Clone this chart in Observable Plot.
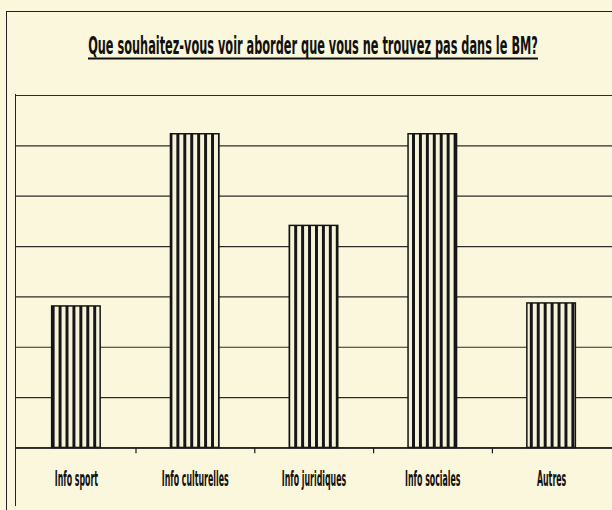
<!DOCTYPE html>
<html><head><meta charset="utf-8">
<script src="https://cdn.jsdelivr.net/npm/d3@7"></script>
<script src="https://cdn.jsdelivr.net/npm/@observablehq/plot@0.6"></script>
<style>
html,body{margin:0;padding:0;}
body{background:#fbf7dc;width:612px;height:510px;overflow:hidden;position:relative;font-family:"Liberation Sans Narrow","DejaVu Sans Condensed","Liberation Sans",sans-serif;}
#outer{position:absolute;left:6px;top:11px;width:700px;height:600px;border:1.5px solid #222;box-sizing:border-box;}
#title{position:absolute;left:0;top:0;}
#plot{position:absolute;left:15px;top:94px;border-left:1.5px solid #222;}
</style></head><body>
<div id="outer"></div>
<svg id="title" width="612" height="80"></svg>
<div id="plot"></div>
<script>
const categories = ["Info sport","Info culturelles","Info juridiques","Info sociales","Autres"];
const values = [14.05, 31.15, 22.05, 31.15, 14.35];
const yTicks = [0, 5, 10, 15, 20, 25, 30, 35];
const titleText = "Que souhaitez-vous voir aborder que vous ne trouvez pas dans le BM?";

const data = categories.map((c, i) => ({category: c, value: values[i]}));

// Title
const tsvg = d3.select("#title");
const t = tsvg.append("text")
  .attr("text-anchor", "middle")
  .attr("font-family", "'Liberation Sans Narrow','DejaVu Sans Condensed',sans-serif")
  .attr("font-weight", "bold").attr("font-size", 24)
  .attr("fill", "#111")
  .text(titleText);
const natural = t.node().getComputedTextLength();
const k = Math.min(1, 450 / natural);
t.attr("transform", `translate(313,54) scale(${k},1)`);
tsvg.append("line").attr("x1", 88).attr("x2", 538).attr("y1", 58.5).attr("y2", 58.5)
  .attr("stroke", "#111").attr("stroke-width", 2.2);

const W = 602, n = categories.length;
const step = W / n;

const chart = Plot.plot({
  width: W, height: 416,
  marginTop: 1, marginBottom: 59, marginLeft: 0, marginRight: 0,
  style: {background: "transparent", fontFamily: "'Liberation Sans Narrow','DejaVu Sans Condensed',sans-serif"},
  x: {domain: categories, paddingInner: 0.59, paddingOuter: 0.295, label: null, axis: null},
  y: {domain: [0, 35], axis: null, label: null},
  marks: [
    Plot.ruleY(yTicks, {stroke: "#2b2b2b", strokeWidth: 1.2}),
    Plot.barY(data, {x: "category", y: "value", fill: "url(#stripes)", stroke: "#141414", strokeWidth: 1.5}),
    Plot.ruleY([0], {stroke: "#1a1a1a", strokeWidth: 1.5}),
    Plot.axisX({ticks: categories.slice(0, -1), tickSize: 6, tickFormat: () => "", dx: step / 2, stroke: "#1a1a1a", strokeWidth: 1.2}),
    Plot.axisX({tickSize: 0, tickPadding: 24, fontSize: 21, fontWeight: "bold", fill: "#111", className: "xlabels"})
  ]
});
document.getElementById("plot").appendChild(chart);

// stripe pattern
const svg = d3.select(chart);
const defs = svg.insert("defs", ":first-child");
const pat = defs.append("pattern").attr("id", "stripes").attr("patternUnits", "userSpaceOnUse")
  .attr("width", 7).attr("height", 10).attr("x", 1);
pat.append("rect").attr("width", 7).attr("height", 10).attr("fill", "#f7f3da");
pat.append("rect").attr("width", 3).attr("height", 10).attr("fill", "#161616");

// condense axis labels horizontally
svg.selectAll(".xlabels text").each(function() {
  const tr = this.getAttribute("transform") || "";
  this.setAttribute("transform", tr + " scale(0.42,1)");
});
</script>
</body></html>
